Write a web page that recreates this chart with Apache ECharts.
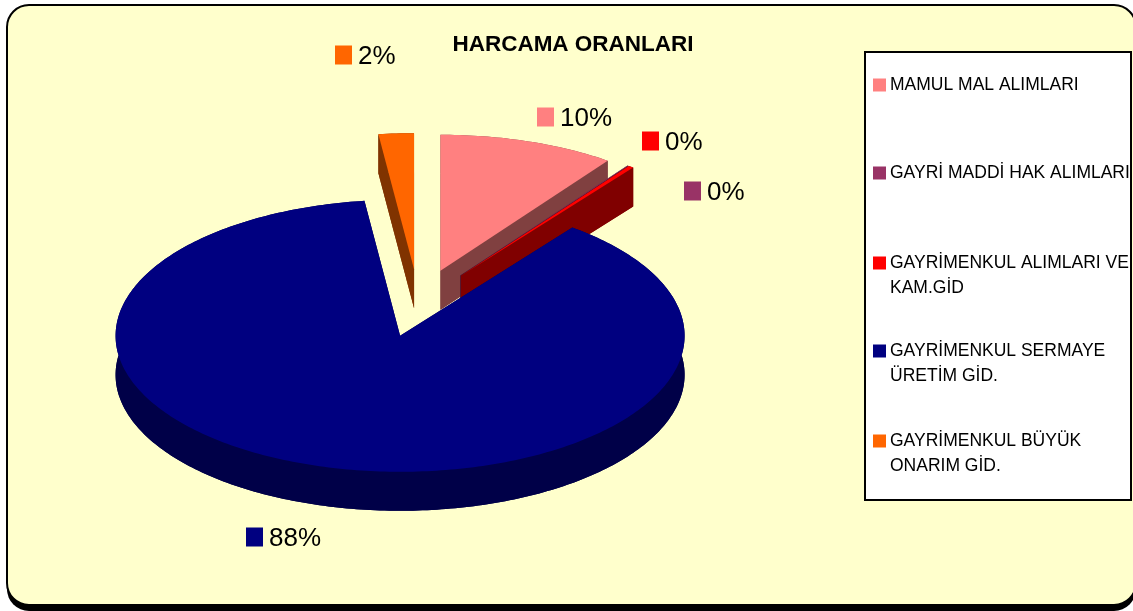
<!DOCTYPE html>
<html>
<head>
<meta charset="utf-8">
<title>HARCAMA ORANLARI</title>
<script src="https://cdn.jsdelivr.net/npm/echarts@6/dist/echarts.min.js"></script>
<style>
html,body{margin:0;padding:0;background:#fff;}
#chart{width:1133px;height:611px;}
</style>
</head>
<body>
<div id="chart"></div>
<script>
// legend text, one entry per slice, second lines kept apart because they sit under the first line
var categories = ['MAMUL MAL ALIMLARI', 'GAYRİ MADDİ HAK ALIMLARI', 'GAYRİMENKUL ALIMLARI VE', 'GAYRİMENKUL SERMAYE', 'GAYRİMENKUL BÜYÜK'];
var secondLines = ['', '', 'KAM.GİD', 'ÜRETİM GİD.', 'ONARIM GİD.'];
var values = [10.0, 0.05, 0.3, 87.65, 2.0];
var colors = ['#FF8080', '#993366', '#FF0000', '#000080', '#FF6600'];
var wallColors = ['#804040', '#4D1A33', '#800000', '#000048', '#803300'];

// layout
var CX = 418.5, CY = 303, RX = 284.5, RY = 136, DEPTH = 39, EXPLODE = 71;
var labelPos = [[537, 117], [684, 191], [642, 141], [246, 537], [335, 55]];
var legendTop = [76, 164, 254, 342, 432];

var total = 0;
for (var i = 0; i < values.length; i++) total += values[i];

function polar(cx, cy, a) {
    return [cx + RX * Math.sin(a), cy - RY * Math.cos(a)];
}

function drawSlice(idx, api) {
    var start = 0;
    for (var i = 0; i < idx; i++) start += values[i];
    var a0 = start / total * Math.PI * 2;
    var a1 = (start + values[idx]) / total * Math.PI * 2;
    var mid = (a0 + a1) / 2;
    var cx = CX + EXPLODE * Math.sin(mid);
    var cy = CY - EXPLODE * Math.cos(mid) * RY / RX;

    var arc = [];
    var steps = Math.max(2, Math.ceil((a1 - a0) * 60));
    for (var s = 0; s <= steps; s++) {
        arc.push(polar(cx, cy, a0 + (a1 - a0) * s / steps));
    }
    var top = [[cx, cy]].concat(arc);
    var down = function (p) { return [p[0], p[1] + DEPTH]; };

    var children = [];
    var wall = wallColors[idx];
    // bottom face and the two cut faces
    children.push({type: 'polygon', shape: {points: top.map(down)}, style: {fill: wall}});
    var first = arc[0], last = arc[arc.length - 1];
    children.push({type: 'polygon', shape: {points: [[cx, cy], first, down(first), [cx, cy + DEPTH]]}, style: {fill: wall}});
    children.push({type: 'polygon', shape: {points: [[cx, cy], last, down(last), [cx, cy + DEPTH]]}, style: {fill: wall}});
    // rim
    children.push({type: 'polygon', shape: {points: arc.concat(arc.map(down).reverse())}, style: {fill: wall}});
    children.push({type: 'polygon', shape: {points: top}, style: {fill: colors[idx]}});

    // value label with its key
    var lp = labelPos[idx];
    children.push({type: 'rect', shape: {x: lp[0], y: lp[1] - 9.5, width: 17, height: 19}, style: {fill: colors[idx]}});
    children.push({
        type: 'text',
        style: {
            x: lp[0] + 23, y: lp[1] + 2,
            text: Math.round(values[idx]) + '%',
            fill: '#000',
            font: '26px "Liberation Sans"',
            textVerticalAlign: 'middle'
        }
    });
    return {type: 'group', children: children};
}

var series = [];
var legends = [];
var graphics = [
    {type: 'rect', z: -10, shape: {x: 7, y: 8, width: 1129, height: 603, r: 22}, style: {fill: '#000'}},
    {type: 'rect', z: -9, shape: {x: 7, y: 5, width: 1129, height: 600, r: 22}, style: {fill: '#FFFFCC', stroke: '#000', lineWidth: 2}},
    {type: 'rect', z: -8, shape: {x: 865, y: 52, width: 266, height: 448}, style: {fill: '#fff', stroke: '#000', lineWidth: 2}}
];

categories.forEach(function (name, idx) {
    series.push({
        type: 'custom',
        name: name,
        coordinateSystem: 'none',
        silent: true,
        itemStyle: {color: colors[idx]},
        data: [values[idx]],
        renderItem: function (params, api) {
            return drawSlice(idx, api);
        }
    });
    legends.push({
        data: [name],
        left: 873,
        top: legendTop[idx],
        padding: 0,
        itemWidth: 13,
        itemHeight: 13,
        itemGap: 0,
        selectedMode: false,
        icon: 'rect',
        textStyle: {fontFamily: 'Liberation Sans', fontSize: 17.5, color: '#000', padding: [0, 0, 0, -1]}
    });
    if (secondLines[idx]) {
        graphics.push({
            type: 'text',
            z: 5,
            style: {
                x: 890, y: legendTop[idx] + 34,
                text: secondLines[idx],
                fill: '#000',
                font: '17.5px "Liberation Sans"',
                textVerticalAlign: 'middle'
            }
        });
    }
});

var chart = echarts.init(document.getElementById('chart'));
chart.setOption({
    backgroundColor: '#fff',
    animation: false,
    title: {
        text: 'HARCAMA ORANLARI',
        left: 573,
        textAlign: 'center',
        top: 33,
        padding: 0,
        textStyle: {fontFamily: 'Liberation Sans', fontSize: 22.5, fontWeight: 'bold', color: '#000'}
    },
    legend: legends,
    graphic: graphics,
    series: series
});
</script>
</body>
</html>
